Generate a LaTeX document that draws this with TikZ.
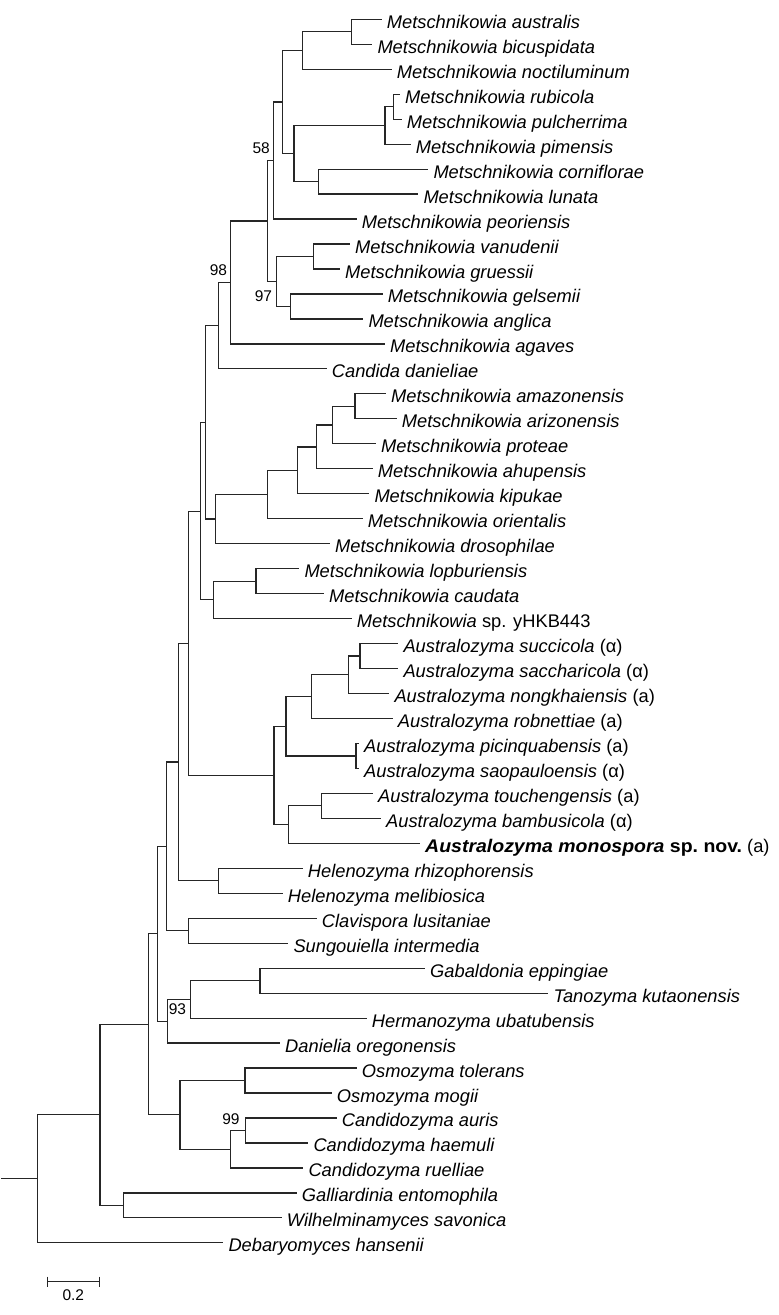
\documentclass[tikz,border=0pt]{standalone}
\usepackage{fontspec}
\setmainfont{Liberation Sans}
\usetikzlibrary{calc}
\tikzset{
  br/.style={line width=1.2pt, draw=black!85},
  lab/.style={anchor=base west, inner sep=0pt, xshift=5pt, yshift=-9pt, font=\fontsize{18.3}{20}\selectfont},
  bs/.style={inner sep=0pt, font=\fontsize{15.5}{16}\selectfont}
}
\newcommand\leaf[3]{\coordinate (t#1) at (#2,{19.3+(#1-1)*24.97}); \node[lab] (l#1) at (t#1) {#3};}
\newcommand\inode[4]{\coordinate (#1m) at ($(#3)!0.5!(#4)$); \coordinate (#1) at (#2,0 |- #1m); \draw[br] (#1) |- (#3); \draw[br] (#1) |- (#4);}
\begin{document}
\begin{tikzpicture}[x=1pt,y=-1pt]
\useasboundingbox (0,0) rectangle (779,1315);
\leaf{1}{381.7}{\textit{Metschnikowia australis}}
\leaf{2}{372.3}{\textit{Metschnikowia bicuspidata}}
\leaf{3}{391.7}{\textit{Metschnikowia noctiluminum}}
\leaf{4}{400}{\textit{Metschnikowia rubicola}}
\leaf{5}{401.7}{\textit{Metschnikowia pulcherrima}}
\leaf{6}{410.7}{\textit{Metschnikowia pimensis}}
\leaf{7}{428.3}{\textit{Metschnikowia corniflorae}}
\leaf{8}{418.3}{\textit{Metschnikowia lunata}}
\leaf{9}{356.7}{\textit{Metschnikowia peoriensis}}
\leaf{10}{350}{\textit{Metschnikowia vanudenii}}
\leaf{11}{340}{\textit{Metschnikowia gruessii}}
\leaf{12}{382.7}{\textit{Metschnikowia gelsemii}}
\leaf{13}{363.3}{\textit{Metschnikowia anglica}}
\leaf{14}{385}{\textit{Metschnikowia agaves}}
\leaf{15}{326.7}{\textit{Candida danieliae}}
\leaf{16}{386}{\textit{Metschnikowia amazonensis}}
\leaf{17}{396.7}{\textit{Metschnikowia arizonensis}}
\leaf{18}{376}{\textit{Metschnikowia proteae}}
\leaf{19}{372.7}{\textit{Metschnikowia ahupensis}}
\leaf{20}{369.3}{\textit{Metschnikowia kipukae}}
\leaf{21}{362.7}{\textit{Metschnikowia orientalis}}
\leaf{22}{330}{\textit{Metschnikowia drosophilae}}
\leaf{23}{299.3}{\textit{Metschnikowia lopburiensis}}
\leaf{24}{324}{\textit{Metschnikowia caudata}}
\leaf{25}{351.7}{\textit{Metschnikowia} sp. yHKB443}
\leaf{26}{398.3}{\textit{Australozyma succicola} (α)}
\leaf{27}{398.3}{\textit{Australozyma saccharicola} (α)}
\leaf{28}{389.3}{\textit{Australozyma nongkhaiensis} (a)}
\leaf{29}{392.7}{\textit{Australozyma robnettiae} (a)}
\leaf{30}{359}{\textit{Australozyma picinquabensis} (a)}
\leaf{31}{359}{\textit{Australozyma saopauloensis} (α)}
\leaf{32}{373}{\textit{Australozyma touchengensis} (a)}
\leaf{33}{381}{\textit{Australozyma bambusicola} (α)}
\leaf{34}{420}{\scalebox{1.065}[1]{\textbf{\textit{Australozyma monospora} sp.~nov.}} (a)}
\leaf{35}{302.7}{\textit{Helenozyma rhizophorensis}}
\leaf{36}{282.7}{\textit{Helenozyma melibiosica}}
\leaf{37}{316.7}{\textit{Clavispora lusitaniae}}
\leaf{38}{288.3}{\textit{Sungouiella intermedia}}
\leaf{39}{425}{\textit{Gabaldonia eppingiae}}
\leaf{40}{548.3}{\textit{Tanozyma kutaonensis}}
\leaf{41}{366.7}{\textit{Hermanozyma ubatubensis}}
\leaf{42}{280}{\textit{Danielia oregonensis}}
\leaf{43}{356.7}{\textit{Osmozyma tolerans}}
\leaf{44}{331.7}{\textit{Osmozyma mogii}}
\leaf{45}{336.7}{\textit{Candidozyma auris}}
\leaf{46}{308.3}{\textit{Candidozyma haemuli}}
\leaf{47}{303.3}{\textit{Candidozyma ruelliae}}
\leaf{48}{296.7}{\textit{Galliardinia entomophila}}
\leaf{49}{281.7}{\textit{Wilhelminamyces savonica}}
\leaf{50}{223.3}{\textit{Debaryomyces hansenii}}
% Metschnikowia clade
\inode{nAa}{351.7}{t1}{t2}
\inode{nAb}{302.7}{nAa}{t3}
\inode{nAc}{393.3}{t4}{t5}
\inode{nAd}{385}{nAc}{t6}
\inode{nAe}{318.3}{t7}{t8}
\inode{nAf}{294}{nAd}{nAe}
\inode{nAg}{282.7}{nAb}{nAf}
\inode{nAh}{273.3}{nAg}{t9}
\inode{nAi}{313.3}{t10}{t11}
\inode{nAj}{290.7}{t12}{t13}
\inode{nAk}{276.7}{nAi}{nAj}
\inode{nAl}{267.7}{nAh}{nAk}
\inode{nAm}{230.7}{nAl}{t14}
\inode{nAn}{218.3}{nAm}{t15}
\inode{nBa}{355}{t16}{t17}
\inode{nBb}{332.7}{nBa}{t18}
\inode{nBc}{316.7}{nBb}{t19}
\inode{nBd}{297.7}{nBc}{t20}
\inode{nBe}{267.7}{nBd}{t21}
\inode{nBf}{215.7}{nBe}{t22}
\inode{nBg}{205.5}{nAn}{nBf}
\inode{nCa}{256}{t23}{t24}
\inode{nCb}{213.3}{nCa}{t25}
\inode{nCc}{200.5}{nBg}{nCb}
% Australozyma
\inode{nDa}{360}{t26}{t27}
\inode{nDb}{348.7}{nDa}{t28}
\inode{nDc}{311.7}{nDb}{t29}
\inode{nDd}{356}{t30}{t31}
\inode{nDe}{286}{nDc}{nDd}
\inode{nDf}{321.7}{t32}{t33}
\inode{nDg}{288.3}{nDf}{t34}
\inode{nDh}{274}{nDe}{nDg}
\inode{nEa}{188.3}{nCc}{nDh}
\inode{nEb}{218.3}{t35}{t36}
\inode{nEc}{178.3}{nEa}{nEb}
\inode{nEd}{188.5}{t37}{t38}
\inode{nEe}{166.5}{nEc}{nEd}
\inode{nFa}{260}{t39}{t40}
\inode{nFb}{190.7}{nFa}{t41}
\inode{nFc}{167.5}{nFb}{t42}
\inode{nFd}{157.5}{nEe}{nFc}
\inode{nGa}{245}{t43}{t44}
\inode{nGb}{245.7}{t45}{t46}
\inode{nGc}{230.7}{nGb}{t47}
\inode{nGd}{180}{nGa}{nGc}
\inode{nGe}{148.3}{nFd}{nGd}
\inode{nHa}{123.3}{t48}{t49}
\inode{nHb}{100}{nGe}{nHa}
\inode{root}{37.3}{nHb}{t50}
\coordinate (rootstart) at (1,0 |- root);
\draw[br] (rootstart) -- (root);
% bootstrap values
\node[bs, anchor=south east] (b58) at ($(nAh)+(-3.3,-6.5)$) {58};
\node[bs, anchor=south east] (b98) at ($(nAm)+(-3.5,-6.5)$) {98};
\node[bs, anchor=north east] (b97) at ($(nAk)+(-4.5,8.5)$) {97};
\node[bs, anchor=north east] (b93) at ($(nFb)+(-4.5,4)$) {93};
\node[bs, anchor=south east] (b99) at ($(nGb)+(-6,-5.5)$) {99};
% scale bar
\coordinate (sbl) at (47.3,1281.7);
\coordinate (sbr) at (99.3,1281.7);
\draw[br] (sbl) -- (sbr);
\draw[br] ($(sbl)+(0,-5)$) -- ($(sbl)+(0,5)$);
\draw[br] ($(sbr)+(0,-5)$) -- ($(sbr)+(0,5)$);
\node[bs] (sbt) at (73.3,1295) {0.2};
\end{tikzpicture}
\end{document}
